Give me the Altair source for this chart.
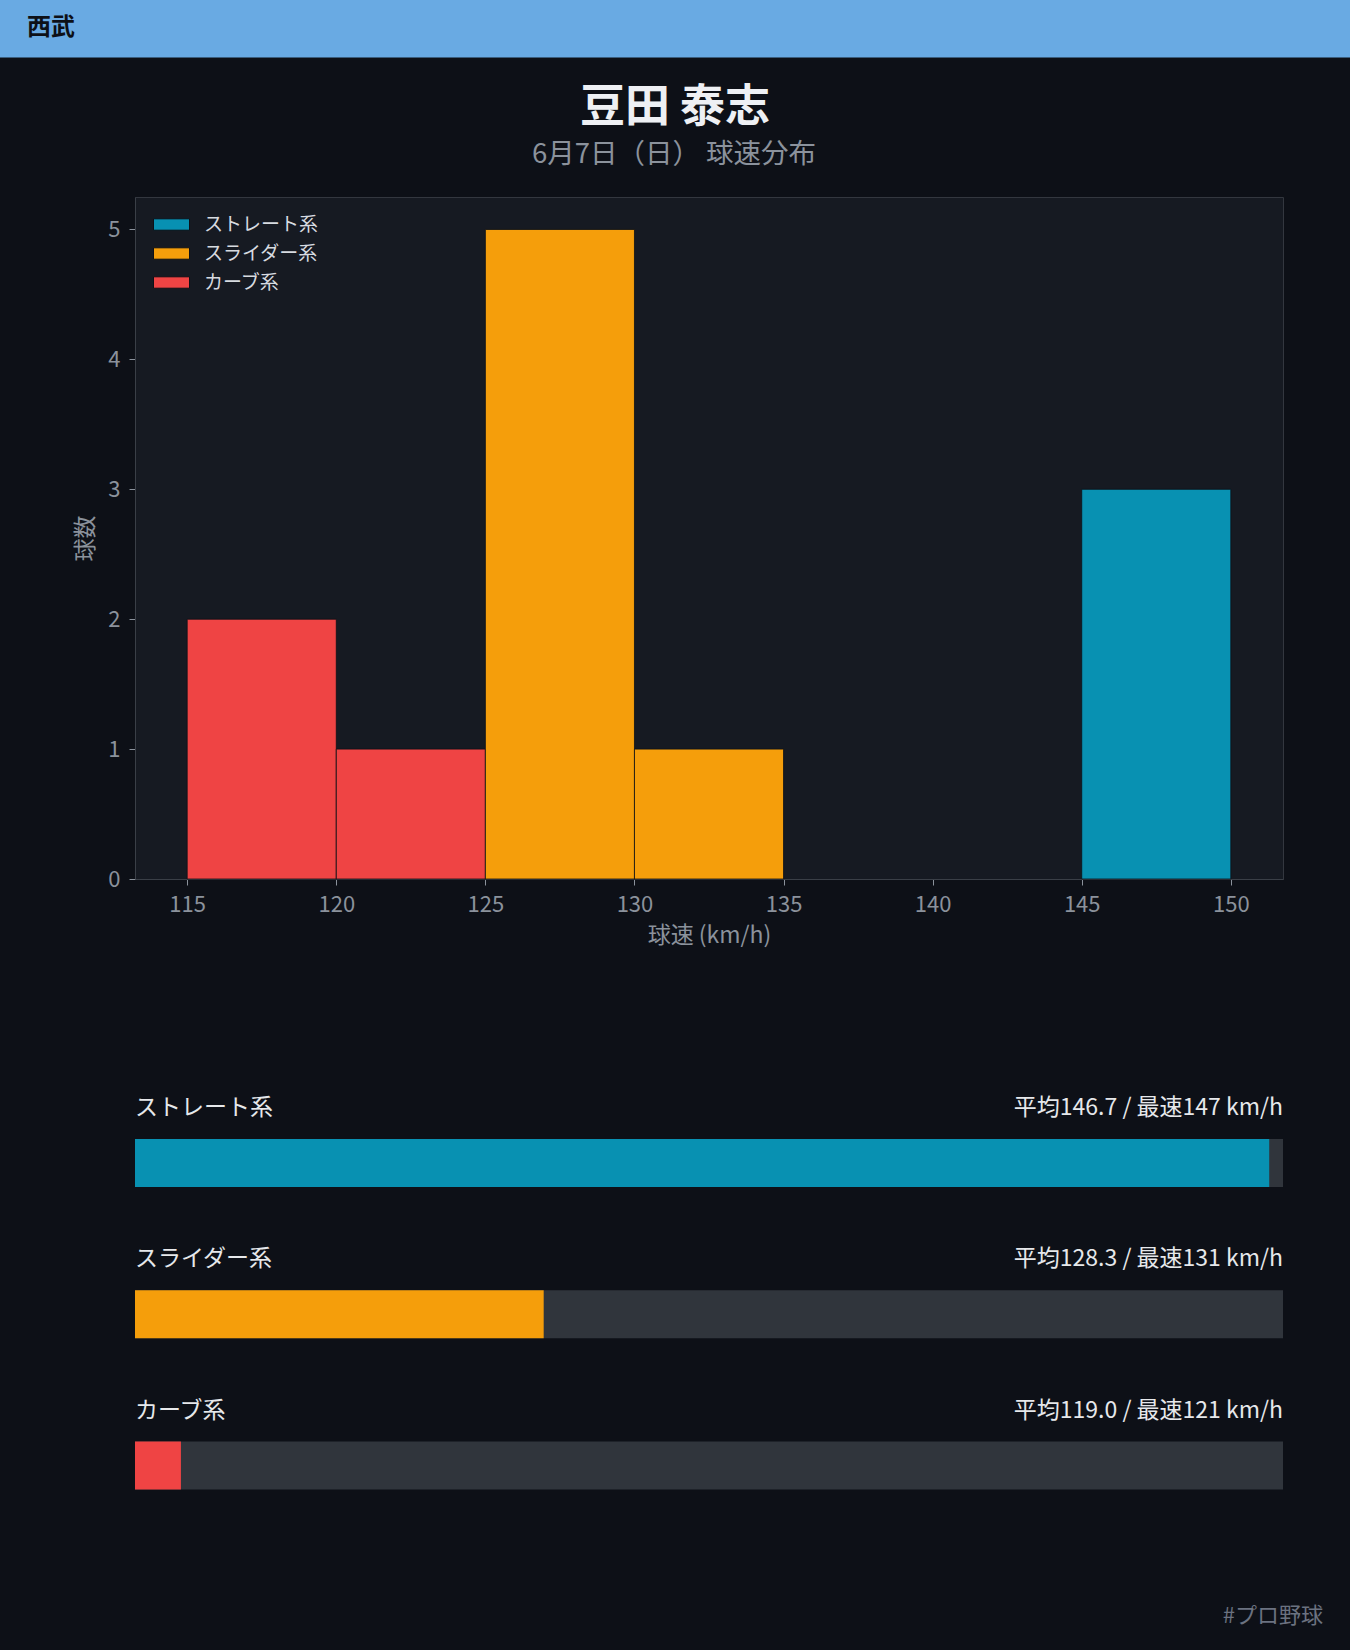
import altair as alt
import pandas as pd

FONT = "Noto Sans CJK JP"

# ---- text ----
team = "西武"
pitcher = "豆田 泰志"
subtitle = "6月7日（日） 球速分布"
hashtag = "#プロ野球"
x_title = "球速 (km/h)"
y_title = "球数"

# ---- categories / colours ----
types = ["ストレート系", "スライダー系", "カーブ系"]
colors = ["#0891b2", "#f59e0b", "#ef4444"]

# ---- histogram (5 km/h bins) ----
bin_type = ["カーブ系", "カーブ系", "スライダー系", "スライダー系", "ストレート系"]
bin_start = [115, 120, 125, 130, 145]
bin_end = [120, 125, 130, 135, 150]
bin_count = [2, 1, 5, 1, 3]
x_ticks = [115, 120, 125, 130, 135, 140, 145, 150]
y_ticks = [0, 1, 2, 3, 4, 5]

# ---- summary bars ----
avg_speed = [146.7, 128.3, 119.0]
max_speed = [147, 131, 121]
bar_pct = [98.8, 35.6, 4.0]

# ---- layout ----
W, H = 1148, 682
PAD = {"left": 135, "top": 197, "right": 67, "bottom": 771}
BG = "#0d1017"

one = pd.DataFrame({"a": [0]})


def text_layer(txt, x, y, size, color, weight="normal", align="center"):
    return alt.Chart(pd.DataFrame({"t": [txt]})).mark_text(
        font=FONT, fontSize=size, color=color, fontWeight=weight,
        align=align, baseline="middle"
    ).encode(text="t:N", x=alt.value(x), y=alt.value(y))


header_rect = alt.Chart(one).mark_rect(color="#69aae3").encode(
    x=alt.value(-PAD["left"]), x2=alt.value(W + PAD["right"]),
    y=alt.value(-PAD["top"]), y2=alt.value(-139.5)
)
header_text = text_layer(team, -108, -169, 24, BG, "bold", "left")
title_t = text_layer(pitcher, 540, -89, 45, "#eef0f4", "bold")
sub_t = text_layer(subtitle, 539, -42, 27.5, "#8b929c")
footer = text_layer(hashtag, 1188, 1419, 22, "#6b7280", "normal", "right")

cscale = alt.Scale(domain=types, range=colors)
legend = alt.Legend(
    orient="none", legendX=24, legendY=15, title=None,
    symbolType="M-1.5,-0.475L1.5,-0.475L1.5,0.475L-1.5,0.475Z",
    symbolSize=576, symbolStrokeColor=BG, symbolStrokeWidth=1,
    symbolOpacity=1, labelFont=FONT, labelFontSize=19, labelColor="#d7dbe0",
    labelOffset=20, rowPadding=6, padding=0,
)

hdf = pd.DataFrame({"type": bin_type, "start": bin_start, "end": bin_end, "count": bin_count})
hist = alt.Chart(hdf).mark_rect(stroke=BG, strokeWidth=0.8).encode(
    x=alt.X("start:Q", scale=alt.Scale(domain=[113.25, 151.75], nice=False, zero=False),
            axis=alt.Axis(values=x_ticks, format="d", title=x_title, labelPadding=9,
                          titlePadding=9)),
    x2="end:Q",
    y=alt.Y("count:Q", scale=alt.Scale(domain=[0, 5.25], nice=False),
            axis=alt.Axis(values=y_ticks, format="d", title=y_title, labelPadding=9,
                          titlePadding=10)),
    y2=alt.datum(0),
    color=alt.Color("type:N", scale=cscale, legend=legend),
)

bdf = pd.DataFrame({"type": types, "avg": avg_speed, "max": max_speed, "pct": bar_pct})
bdf["stat"] = [f"平均{a:.1f} / 最速{m} km/h" for a, m in zip(avg_speed, max_speed)]
yband = alt.Scale(domain=types, range=[942, 1292.6], paddingInner=0.6828, paddingOuter=0)
ych = alt.Y("type:N", scale=yband, axis=None)
base = alt.Chart(bdf)
track = base.mark_rect(color="#30353c").encode(y=ych, x=alt.value(0), x2=alt.value(W))
fill = base.mark_rect().encode(
    y=ych,
    x=alt.X("pct:Q", scale=alt.Scale(domain=[0, 100], range=[0, W]), axis=None),
    x2=alt.value(0),
    color=alt.Color("type:N", scale=cscale, legend=legend),
)
lab = base.mark_text(font=FONT, fontSize=23, color="#e6e8eb", align="left",
                     baseline="middle", dy=-55).encode(y=ych, x=alt.value(0), text="type:N")
stat = base.mark_text(font=FONT, fontSize=23, color="#e6e8eb", align="right",
                      baseline="middle", dy=-55).encode(y=ych, x=alt.value(W), text="stat:N")
bottom = alt.layer(track, fill, lab, stat)

chart = alt.layer(
    header_rect, header_text, title_t, sub_t, hist, bottom, footer
).resolve_scale(
    x="independent", y="independent"
).properties(
    width=W, height=H, padding=PAD,
    autosize=alt.AutoSizeParams(type="none"), background=BG,
).configure_view(
    fill="#161a22", stroke="#33373f", strokeWidth=1
).configure_axis(
    labelFont=FONT, titleFont=FONT, labelColor="#8b929c", titleColor="#8b929c",
    labelFontSize=22, titleFontSize=23, titleFontWeight="normal",
    tickColor="#8b929c", tickSize=6, domainColor="#3a3f47", grid=False,
)

chart.save("out.html", embed_options={"renderer": "svg", "actions": False})
